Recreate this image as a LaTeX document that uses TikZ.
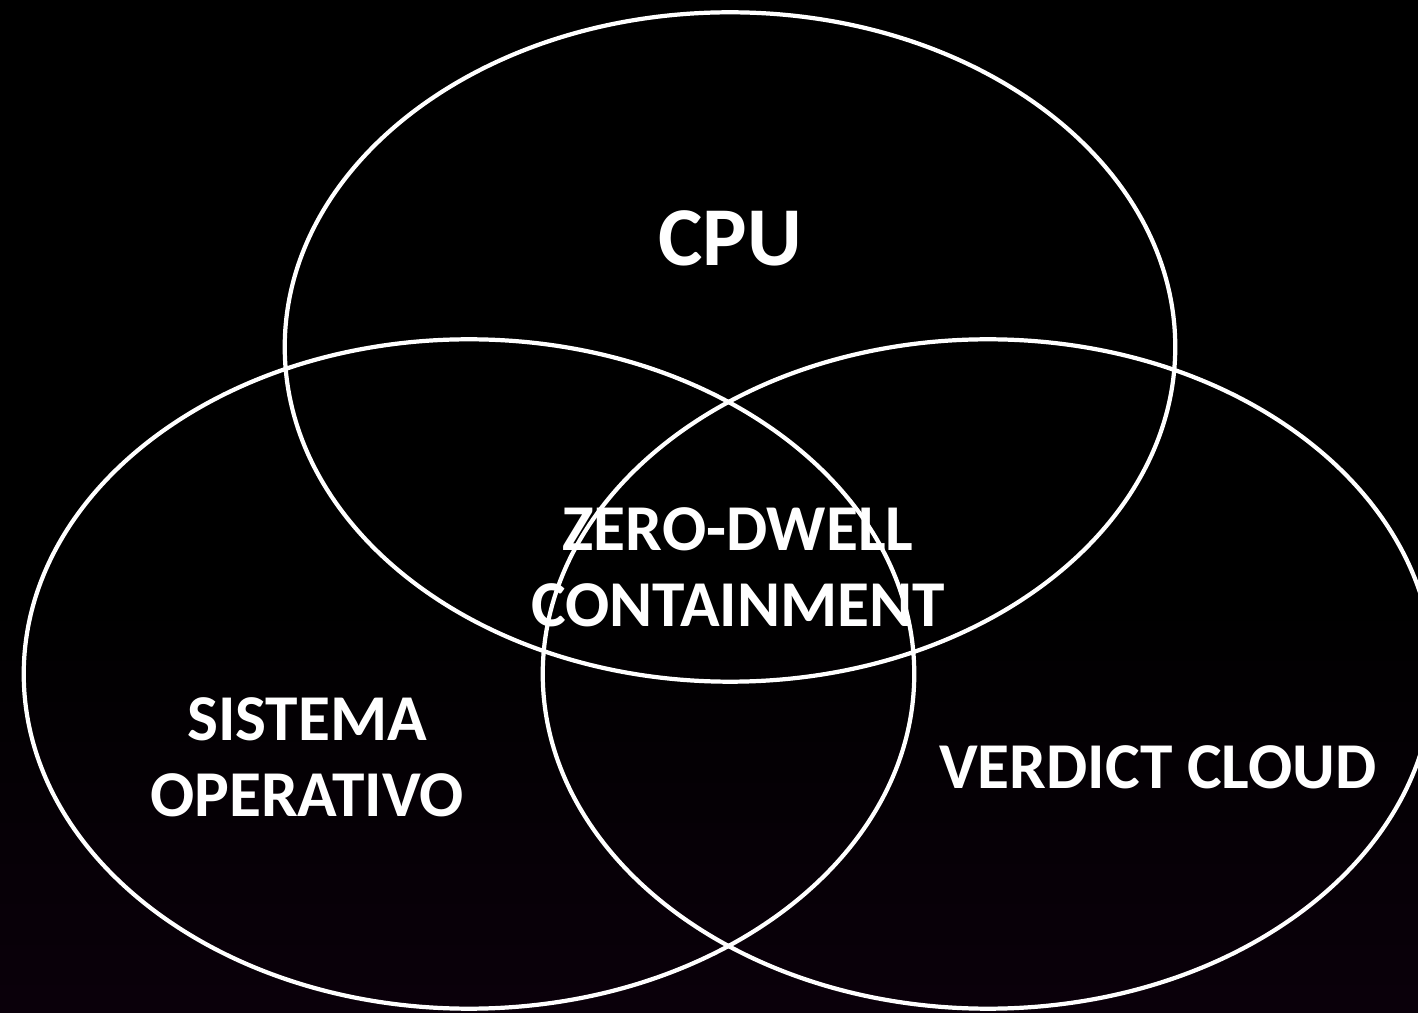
\documentclass[tikz,border=0pt]{standalone}
\usepackage{fontspec}
\setmainfont{Carlito}
\usetikzlibrary{shapes.geometric}
\begin{document}
\begin{tikzpicture}[x=0.01cm,y=-0.01cm,
  ring/.style={draw=white,line width=1.2pt,ellipse,inner sep=0pt,minimum width=8.9cm,minimum height=6.69cm},
  lbl/.style={text=white,font=\bfseries\fontsize{18.6}{21.5}\selectfont,align=center,inner sep=0pt}]
\fill[black] (0,0) rectangle (1418,1013);
\shade[top color=black,bottom color=black!80!violet!40!black] (0,600) rectangle (1418,1013);
\useasboundingbox (0,0) rectangle (1418,1013);
\node[ring] (cpu) at (730,347) {};
\node[ring] (os) at (469,674) {};
\node[ring] (cloud) at (988,674) {};
\node[lbl,font=\bfseries\fontsize{23.8}{27}\selectfont] (t1) at (730,238) {CPU};
\node[lbl] (t2) at (738,567) {ZERO-DWELL\\CONTAINMENT};
\node[lbl] (t3) at (307,757) {SISTEMA\\OPERATIVO};
\node[lbl] (t4) at (1158,767) {VERDICT CLOUD};
\end{tikzpicture}
\end{document}
